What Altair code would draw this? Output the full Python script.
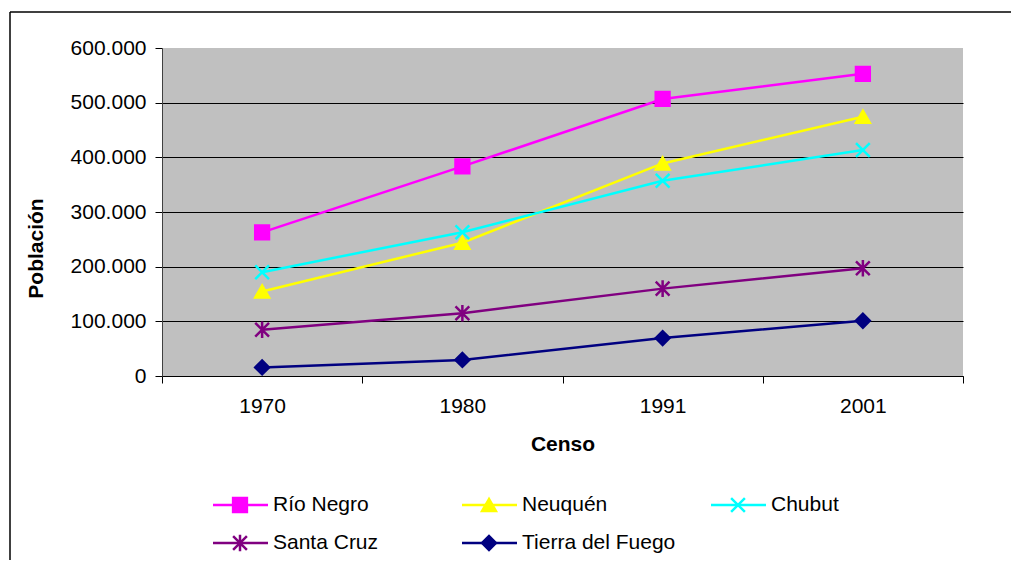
import altair as alt
import pandas as pd

censos = ["1970", "1980", "1991", "2001"]
series = ["Río Negro", "Neuquén", "Chubut", "Santa Cruz", "Tierra del Fuego"]
rio_negro = [262622, 383354, 506772, 552822]
neuquen = [154570, 243850, 388833, 474155]
chubut = [189920, 263116, 357189, 413237]
santa_cruz = [84457, 114941, 159839, 196958]
tierra_del_fuego = [15658, 29392, 69369, 101079]
y_ticks = [0, 100000, 200000, 300000, 400000, 500000, 600000]

colors = ["#FF00FF", "#FFFF00", "#00FFFF", "#800080", "#000080"]
x_path = "M-1,-1L1,1M-1,1L1,-1"
ast_path = "M-1,-1L1,1M-1,1L1,-1M0,-1.2L0,1.2"
shapes = ["square", "triangle-up", x_path, ast_path, "diamond"]

values = [rio_negro, neuquen, chubut, santa_cruz, tierra_del_fuego]
rows = []
for s, vals in zip(series, values):
    for c, v in zip(censos, vals):
        rows.append({"serie": s, "censo": c, "poblacion": v})
df = pd.DataFrame(rows)

leg = pd.DataFrame({
    "serie": series,
    "col": [i % 3 for i in range(len(series))],
    "row": [i // 3 for i in range(len(series))],
})

FONT = "Liberation Sans"
FS = 21

color_scale = alt.Scale(domain=series, range=colors)
shape_scale = alt.Scale(domain=series, range=shapes)

x_enc = alt.X(
    "censo:O",
    scale=alt.Scale(type="band", domain=censos, paddingInner=0, paddingOuter=0),
    axis=alt.Axis(
        title="Censo", labelAngle=0, tickBand="extent", grid=False,
        domainColor="black", tickColor="black", tickSize=7, labelPadding=12,
        labelFontSize=FS, labelFont=FONT, labelColor="black",
        titleFontSize=FS, titleFont=FONT, titleFontWeight="bold", titleColor="black",
        titleX=400.5, titleY=68, titleAlign="center", titleBaseline="middle",
    ),
)
y_enc = alt.Y(
    "poblacion:Q",
    scale=alt.Scale(domain=[0, 600000], nice=False),
    axis=alt.Axis(
        title="Población", values=y_ticks,
        labelExpr="replace(format(datum.value, ',d'), ',', '.')",
        grid=True, gridColor="black", gridWidth=1,
        gridOpacity=alt.condition("datum.value == 600000", alt.value(0), alt.value(1)),
        domainColor="#404040", tickColor="black", tickSize=7, labelPadding=9,
        labelFontSize=FS, labelFont=FONT, labelColor="black",
        titleFontSize=FS, titleFont=FONT, titleFontWeight="bold", titleColor="black",
        titleX=-126, titleY=200, titleAngle=270, titleAlign="center", titleBaseline="middle",
    ),
)

base = alt.Chart(df)
lines = base.mark_line(strokeWidth=2.5).encode(
    x=x_enc, y=y_enc,
    color=alt.Color("serie:N", scale=color_scale, legend=None),
)
points = base.mark_point(filled=True, size=190, strokeWidth=2.5, opacity=1).encode(
    x=x_enc, y=y_enc,
    fill=alt.Fill("serie:N", scale=color_scale, legend=None),
    stroke=alt.Stroke("serie:N", scale=color_scale, legend=None),
    shape=alt.Shape("serie:N", scale=shape_scale, legend=None),
)
main = alt.layer(lines, points)

lx = alt.X("col:Q", scale=alt.Scale(domain=[0, 2], range=[78, 576], nice=False, zero=False), axis=None)
ly = alt.Y("row:Q", scale=alt.Scale(domain=[0, 1], range=[457, 495], nice=False, zero=False), axis=None)
lbase = alt.Chart(leg)
leg_rule = lbase.mark_rule(strokeWidth=2.5, xOffset=-27, x2Offset=28).encode(
    x=lx, x2="col:Q", y=ly,
    color=alt.Color("serie:N", scale=color_scale, legend=None),
)
leg_pt = lbase.mark_point(filled=True, size=190, strokeWidth=2.5, opacity=1).encode(
    x=lx, y=ly,
    fill=alt.Fill("serie:N", scale=color_scale, legend=None),
    stroke=alt.Stroke("serie:N", scale=color_scale, legend=None),
    shape=alt.Shape("serie:N", scale=shape_scale, legend=None),
)
leg_txt = lbase.mark_text(align="left", baseline="middle", dx=33, fontSize=FS, font=FONT, color="black").encode(
    x=lx, y=ly, text="serie:N",
)
legend_layer = alt.layer(leg_rule, leg_pt, leg_txt)

dummy = pd.DataFrame({"k": [0]})
frame_top = alt.Chart(dummy).mark_rule(color="black", strokeWidth=1.5).encode(
    x=alt.value(-152), x2=alt.value(900), y=alt.value(-36),
)
frame_left = alt.Chart(dummy).mark_rule(color="black", strokeWidth=1.5).encode(
    x=alt.value(-152), y=alt.value(-36), y2=alt.value(540),
)

chart = alt.layer(frame_top, frame_left, main, legend_layer).resolve_scale(
    x="independent", y="independent"
).properties(
    width=801, height=328,
    autosize=alt.AutoSizeParams(type="none"),
    padding={"left": 154, "top": 40, "right": 48, "bottom": 184},
).configure(font=FONT).configure_view(fill="#C0C0C0", strokeWidth=0)

chart.save("out.html", embed_options={"renderer": "svg", "actions": False})
